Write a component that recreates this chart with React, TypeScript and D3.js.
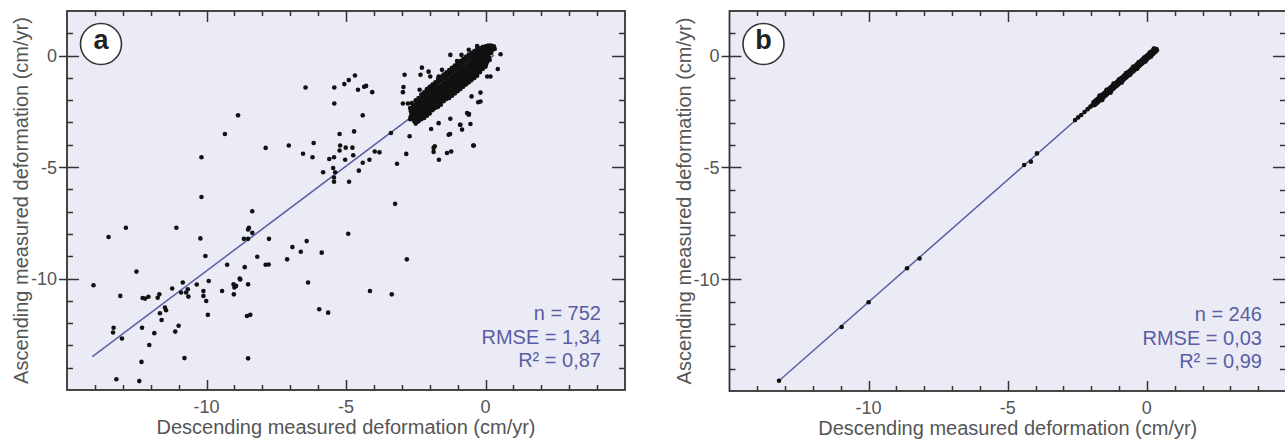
import { useEffect, useRef } from "react";
import * as d3 from "d3";

// axis setup shared by both panels
const xDomain = [-15, 5];
const yDomain = [-15, 2];
const labelledTicks = [-10, -5, 0];
const xLabel = "Descending measured deformation (cm/yr)";
const yLabel = "Ascending measured deformation (cm/yr)";

// panel a: scattered points away from the main cloud
const scatterA = [
  [-8.87, -2.68], [-9.34, -3.52], [-10.18, -4.56], [-10.18, -6.34],
  [-7.88, -4.14], [-7.05, -4.03], [-6.45, -1.43], [-6.54, -4.4], [-6.2, -4.56], [-6.16, -3.92],
  [-5.42, -1.43], [-5.42, -2.15], [-5.06, -1.28], [-4.9, -1.1], [-4.68, -0.89], [-4.57, -1.53],
  [-4.35, -1.4], [-4.28, -1.36], [-4.06, -1.64], [-4.4, -2.68],
  [-5.23, -3.52], [-4.71, -3.4], [-5.21, -4.03], [-5.01, -4.13], [-4.77, -4.13], [-5.23, -4.26],
  [-4.74, -4.47], [-5.6, -4.64], [-5.43, -4.56], [-5.03, -4.67], [-5.46, -5.04], [-5.82, -5.23],
  [-5.39, -5.23], [-5.43, -5.47], [-5.43, -5.66], [-4.89, -5.66], [-4.54, -5.16], [-4.4, -4.81],
  [-4.16, -4.67], [-3.97, -4.3], [-3.8, -4.34], [-3.39, -3.47], [-3.17, -4.85], [-2.84, -4.41],
  [-2.72, -3.62], [-2.9, -0.86], [-2.94, -1.41], [-2.96, -1.64], [-2.96, -2.15], [-2.78, -2.15],
  [-2.28, -0.54], [-2.33, -0.86], [-1.95, -3.29], [-1.82, -4.07], [-1.86, -4.32], [-1.67, -4.67],
  [-1.38, -4.37], [-1.23, -4.3], [-1.27, -3.52], [-0.91, -3.1], [-0.84, -3.32], [-0.54, -3.07],
  [-0.42, -4.03], [-0.26, -2.09], [-0.18, -1.66], [-0.66, -2.58], [-0.59, -2.62], [0.06, -0.94],
  [0.18, -0.94], [0.44, -0.6], [0.54, 0.06], [-1.26, 0.03], [-0.86, 0.03], [-0.6, 0.26],
  [-0.3, 0.43], [-1.02, -0.24], [-1.56, -0.64], [-2.04, -0.72], [-1.98, -0.94], [-1.68, -0.94],
  [-2.36, -1.53], [-0.18, -2.06], [-0.5, -1.83], [-0.6, -2.65], [-0.9, -3.1], [-1.26, -2.83],
  [-1.68, -3.03], [-1.32, -3.55], [-0.44, -4.03], [-1.86, -4.14], [-2.34, -2.28], [-2.64, -2.13],
  [-2.1, -1.53],
  [-14.05, -10.3], [-13.51, -8.14], [-12.89, -7.72], [-11.08, -7.72], [-10.22, -8.2], [-10.04, -8.99],
  [-12.51, -9.69], [-13.09, -10.78], [-12.29, -10.87], [-12.2, -10.9], [-12.08, -10.82],
  [-11.75, -10.86], [-11.69, -10.71], [-11.49, -11.3], [-11.45, -11.42], [-11.67, -11.56],
  [-11.61, -11.86], [-13.33, -12.21], [-13.35, -12.42], [-13.03, -12.69], [-12.31, -12.21],
  [-11.87, -12.45], [-12.05, -12.98], [-12.33, -13.74], [-13.23, -14.52], [-12.41, -14.6],
  [-11.12, -12.38], [-11.0, -12.12], [-10.79, -13.57], [-10.85, -10.18], [-10.91, -10.63],
  [-10.73, -10.63], [-10.67, -10.48], [-10.65, -10.81], [-11.23, -10.45], [-10.35, -10.27],
  [-9.92, -10.11], [-10.11, -10.56], [-10.11, -10.78], [-10.01, -11.01], [-9.95, -11.63],
  [-9.44, -10.56], [-9.26, -9.38], [-9.03, -10.26], [-9.0, -10.4], [-8.94, -10.33], [-9.02, -10.71],
  [-8.79, -10.04], [-8.63, -9.49], [-8.66, -8.22], [-8.51, -8.22], [-8.51, -7.8], [-8.55, -11.68],
  [-8.43, -11.63], [-8.51, -13.58], [-7.76, -8.22], [-8.18, -9.02], [-7.88, -9.38], [-7.77, -9.37],
  [-8.51, -10.26], [-3.24, -6.65], [-8.36, -6.98], [-8.48, -7.72], [-8.36, -7.95], [-4.92, -7.99],
  [-6.92, -8.59], [-6.62, -8.8], [-6.41, -8.32], [-5.87, -8.84], [-7.11, -9.14], [-2.82, -9.14],
  [-6.36, -10.18], [-8.81, -10.0], [-4.14, -10.56], [-3.36, -10.71], [-5.96, -11.38], [-5.64, -11.53],
];

// panel a: the dense cloud near zero
const cloudA = [
  [-2.7, -2.35], [-2.65, -2.6], [-2.7, -2.85],
  [-2.6, -2.2], [-2.55, -2.45], [-2.6, -2.7], [-2.55, -2.95],
  [-2.5, -2.0], [-2.45, -2.3], [-2.5, -2.55], [-2.45, -2.8], [-2.5, -3.05],
  [-2.4, -1.9], [-2.35, -2.2], [-2.4, -2.45], [-2.35, -2.7], [-2.4, -2.95],
  [-2.3, -1.75], [-2.25, -2.05], [-2.3, -2.35], [-2.25, -2.6], [-2.3, -2.85],
  [-2.2, -1.65], [-2.15, -1.95], [-2.2, -2.25], [-2.15, -2.5], [-2.2, -2.8],
  [-2.1, -1.5], [-2.05, -1.85], [-2.1, -2.1], [-2.05, -2.4], [-2.1, -2.7],
  [-2.0, -1.4], [-1.95, -1.7], [-2.0, -2.0], [-1.95, -2.3], [-2.0, -2.6],
  [-1.9, -1.3], [-1.85, -1.6], [-1.9, -1.9], [-1.85, -2.2], [-1.9, -2.45],
  [-1.8, -1.2], [-1.75, -1.5], [-1.8, -1.8], [-1.75, -2.1], [-1.8, -2.35],
  [-1.7, -1.05], [-1.65, -1.4], [-1.7, -1.7], [-1.65, -2.0], [-1.7, -2.3],
  [-1.6, -0.95], [-1.55, -1.3], [-1.6, -1.6], [-1.55, -1.9], [-1.6, -2.2],
  [-1.5, -0.85], [-1.45, -1.2], [-1.5, -1.5], [-1.45, -1.8], [-1.5, -2.05],
  [-1.4, -0.75], [-1.35, -1.1], [-1.4, -1.4], [-1.35, -1.7], [-1.4, -1.95],
  [-1.3, -0.65], [-1.25, -1.0], [-1.3, -1.3], [-1.25, -1.6], [-1.3, -1.9],
  [-1.2, -0.55], [-1.15, -0.9], [-1.2, -1.2], [-1.15, -1.5], [-1.2, -1.8],
  [-1.1, -0.45], [-1.05, -0.8], [-1.1, -1.1], [-1.05, -1.4], [-1.1, -1.7],
  [-1.0, -0.35], [-0.95, -0.7], [-1.0, -1.0], [-0.95, -1.3], [-1.0, -1.6],
  [-0.9, -0.25], [-0.85, -0.6], [-0.9, -0.9], [-0.85, -1.2], [-0.9, -1.5],
  [-0.8, -0.15], [-0.75, -0.5], [-0.8, -0.8], [-0.75, -1.1], [-0.8, -1.4],
  [-0.7, -0.05], [-0.65, -0.4], [-0.7, -0.7], [-0.65, -1.0], [-0.7, -1.3],
  [-0.6, 0.05], [-0.55, -0.3], [-0.6, -0.6], [-0.55, -0.9], [-0.6, -1.2],
  [-0.5, 0.12], [-0.45, -0.2], [-0.5, -0.5], [-0.45, -0.8], [-0.5, -1.1],
  [-0.4, 0.2], [-0.35, -0.1], [-0.4, -0.4], [-0.35, -0.7], [-0.4, -1.0],
  [-0.3, 0.28], [-0.25, 0.0], [-0.3, -0.3], [-0.25, -0.6], [-0.3, -0.9],
  [-0.2, 0.33], [-0.15, 0.08], [-0.2, -0.2], [-0.15, -0.5], [-0.2, -0.75],
  [-0.1, 0.38], [-0.05, 0.15], [-0.1, -0.1], [-0.05, -0.4], [-0.1, -0.6],
  [0.0, 0.42], [0.05, 0.2], [0.0, -0.02], [0.05, -0.3], [0.0, -0.5],
  [0.1, 0.45], [0.15, 0.25], [0.1, 0.05], [0.15, -0.2],
  [0.2, 0.45], [0.25, 0.3], [0.2, 0.12],
  [0.3, 0.42], [0.33, 0.3],
];

// panel a: points that fill the gaps inside the cloud
const cloudAFill = [
  [-2.68, -2.48], [-2.68, -2.73],
  [-2.58, -2.33], [-2.58, -2.58], [-2.58, -2.83],
  [-2.48, -2.15], [-2.48, -2.43], [-2.48, -2.68], [-2.48, -2.93],
  [-2.38, -2.05], [-2.38, -2.33], [-2.38, -2.58], [-2.38, -2.83],
  [-2.28, -1.9], [-2.28, -2.2], [-2.28, -2.48], [-2.28, -2.73],
  [-2.18, -1.8], [-2.18, -2.1], [-2.18, -2.38], [-2.18, -2.65],
  [-2.08, -1.68], [-2.08, -1.98], [-2.08, -2.25], [-2.08, -2.55],
  [-1.98, -1.55], [-1.98, -1.85], [-1.98, -2.15], [-1.98, -2.45],
  [-1.88, -1.45], [-1.88, -1.75], [-1.88, -2.05], [-1.88, -2.33],
  [-1.78, -1.35], [-1.78, -1.65], [-1.78, -1.95], [-1.78, -2.23],
  [-1.68, -1.22], [-1.68, -1.55], [-1.68, -1.85], [-1.68, -2.15],
  [-1.58, -1.12], [-1.58, -1.45], [-1.58, -1.75], [-1.58, -2.05],
  [-1.48, -1.02], [-1.48, -1.35], [-1.48, -1.65], [-1.48, -1.92],
  [-1.38, -0.92], [-1.38, -1.25], [-1.38, -1.55], [-1.38, -1.82],
  [-1.28, -0.82], [-1.28, -1.15], [-1.28, -1.45], [-1.28, -1.75],
  [-1.18, -0.72], [-1.18, -1.05], [-1.18, -1.35], [-1.18, -1.65],
  [-1.08, -0.62], [-1.08, -0.95], [-1.08, -1.25], [-1.08, -1.55],
  [-0.98, -0.52], [-0.98, -0.85], [-0.98, -1.15], [-0.98, -1.45],
  [-0.88, -0.42], [-0.88, -0.75], [-0.88, -1.05], [-0.88, -1.35],
  [-0.78, -0.32], [-0.78, -0.65], [-0.78, -0.95], [-0.78, -1.25],
  [-0.68, -0.22], [-0.68, -0.55], [-0.68, -0.85], [-0.68, -1.15],
  [-0.58, -0.12], [-0.58, -0.45], [-0.58, -0.75], [-0.58, -1.05],
  [-0.48, -0.04], [-0.48, -0.35], [-0.48, -0.65], [-0.48, -0.95],
  [-0.38, 0.05], [-0.38, -0.25], [-0.38, -0.55], [-0.38, -0.85],
  [-0.28, 0.14], [-0.28, -0.15], [-0.28, -0.45], [-0.28, -0.75],
  [-0.18, 0.2], [-0.18, -0.06], [-0.18, -0.35], [-0.18, -0.62],
  [-0.08, 0.26], [-0.08, 0.02], [-0.08, -0.25], [-0.08, -0.5],
  [0.02, 0.31], [0.02, 0.09], [0.02, -0.16], [0.02, -0.4],
  [0.12, 0.35], [0.12, 0.15], [0.12, -0.08],
  [0.22, 0.38], [0.22, 0.21],
];

// panel b points
const scatterB = [
  [-13.22, -14.54], [-10.97, -12.14], [-10.0, -11.03], [-8.62, -9.51], [-8.17, -9.07],
  [-4.41, -4.89], [-4.17, -4.74], [-3.95, -4.37],
  [-2.58, -2.88], [-2.47, -2.76], [-2.36, -2.65], [-2.24, -2.52], [-2.13, -2.39], [-2.03, -2.28], [-1.96, -2.22],
];
const cloudB = [
  [-1.92, -2.09], [-1.88, -2.21], [-1.87, -2.04], [-1.83, -2.16], [-1.82, -1.98], [-1.78, -2.1],
  [-1.77, -1.93], [-1.73, -2.05], [-1.72, -1.87], [-1.68, -1.99], [-1.67, -1.82], [-1.63, -1.94],
  [-1.62, -1.76], [-1.58, -1.88], [-1.57, -1.71], [-1.53, -1.83], [-1.52, -1.66], [-1.48, -1.78],
  [-1.47, -1.6], [-1.43, -1.72], [-1.42, -1.55], [-1.38, -1.67], [-1.37, -1.49], [-1.33, -1.61],
  [-1.32, -1.44], [-1.28, -1.56], [-1.27, -1.38], [-1.23, -1.5], [-1.22, -1.33], [-1.18, -1.45],
  [-1.17, -1.27], [-1.13, -1.39], [-1.12, -1.22], [-1.08, -1.34], [-1.07, -1.17], [-1.03, -1.29],
  [-1.02, -1.11], [-0.98, -1.23], [-0.97, -1.06], [-0.93, -1.18], [-0.92, -1.0], [-0.88, -1.12],
  [-0.87, -0.95], [-0.83, -1.07], [-0.82, -0.89], [-0.78, -1.01], [-0.77, -0.84], [-0.73, -0.96],
  [-0.72, -0.78], [-0.68, -0.9], [-0.67, -0.73], [-0.63, -0.85], [-0.62, -0.67], [-0.58, -0.79],
  [-0.57, -0.62], [-0.53, -0.74], [-0.52, -0.57], [-0.48, -0.69], [-0.47, -0.51], [-0.43, -0.63],
  [-0.42, -0.46], [-0.38, -0.58], [-0.37, -0.4], [-0.33, -0.52], [-0.32, -0.35], [-0.28, -0.47],
  [-0.27, -0.29], [-0.23, -0.41], [-0.22, -0.24], [-0.18, -0.36], [-0.17, -0.18], [-0.13, -0.3],
  [-0.12, -0.13], [-0.08, -0.25], [-0.07, -0.08], [-0.03, -0.2], [-0.02, -0.02], [0.02, -0.14],
  [0.03, 0.03], [0.07, -0.09], [0.08, 0.09], [0.12, -0.03], [0.13, 0.14], [0.17, 0.02],
  [0.18, 0.2], [0.22, 0.08], [0.23, 0.25], [0.27, 0.13], [0.28, 0.31], [0.32, 0.19],
  [0.34, 0.3], [0.36, 0.24],
  [-1.7, -1.78], [-1.45, -1.52], [-1.2, -1.25], [-1.0, -1.05], [-0.75, -0.78], [-0.5, -0.5],
  [-0.3, -0.3], [-0.1, -0.08], [0.1, 0.14], [0.25, 0.32],
  [-1.6, -1.98], [-1.3, -1.65], [-0.9, -1.2], [-0.6, -0.85], [-0.35, -0.58], [-0.05, -0.26], [0.15, -0.03],
];

// regression lines (end points)
const fitA = [[-14.09, -13.5], [0.3, 0.02]];
const fitB = [[-13.22, -14.54], [0.35, 0.3]];

const statsA = ["n = 752", "RMSE = 1,34", "R² = 0,87"];
const statsB = ["n = 246", "RMSE = 0,03", "R² = 0,99"];

const panels = [
  { id: "a", left: 67, right: 625, top: 11, bottom: 390, points: [...scatterA, ...cloudA, ...cloudAFill], fit: fitA, stats: statsA },
  { id: "b", left: 729.5, right: 1286, top: 11, bottom: 391, points: [...scatterB, ...cloudB], fit: fitB, stats: statsB },
];

const FONT = "'Liberation Sans', Arial, sans-serif";
const BG = "#ebebf5";
const INK = "#333";
const GREY = "#555";
const BLUE = "#5a5ea4";

const App = () => {
  const svgRef = useRef(null);

  useEffect(() => {
    const svg = d3.select(svgRef.current);

    panels.forEach((p) => {
      const x = d3.scaleLinear().domain(xDomain).range([p.left, p.right]);
      const y = d3.scaleLinear().domain(yDomain).range([p.bottom, p.top]);
      const g = svg.append("g");

      g.append("clipPath")
        .attr("id", "clip-" + p.id)
        .append("rect")
        .attr("x", p.left)
        .attr("y", p.top)
        .attr("width", p.right - p.left)
        .attr("height", p.bottom - p.top);

      g.append("rect")
        .attr("x", p.left)
        .attr("y", p.top)
        .attr("width", p.right - p.left)
        .attr("height", p.bottom - p.top)
        .attr("fill", BG);

      const inner = g.append("g").attr("clip-path", `url(#clip-${p.id})`);

      inner
        .append("path")
        .attr("d", d3.line().x((d) => x(d[0])).y((d) => y(d[1]))(p.fit))
        .attr("stroke", BLUE)
        .attr("stroke-width", 1.5)
        .attr("fill", "none");

      inner
        .selectAll("circle")
        .data(p.points)
        .join("circle")
        .attr("cx", (d) => x(d[0]))
        .attr("cy", (d) => y(d[1]))
        .attr("r", 2.3)
        .attr("fill", "#111");

      // ticks, every unit; longer ones at multiples of 5
      const ticks = g.append("g").attr("stroke", INK).attr("stroke-width", 1.5);
      const xs = d3.range(xDomain[0] + 1, xDomain[1]);
      const ys = d3.range(yDomain[0] + 1, yDomain[1]);
      const isMajor = (v) => v % 5 === 0;

      ys.forEach((v) => {
        const yy = Math.round(y(v)) + 0.5;
        ticks.append("line")
          .attr("x1", isMajor(v) ? p.left - 8 : p.left).attr("x2", p.left + (isMajor(v) ? 12 : 6))
          .attr("y1", yy).attr("y2", yy);
        ticks.append("line")
          .attr("x1", p.right - (isMajor(v) ? 13 : 6)).attr("x2", p.right)
          .attr("y1", yy).attr("y2", yy);
      });
      xs.forEach((v) => {
        const xx = Math.round(x(v)) + 0.5;
        ticks.append("line")
          .attr("x1", xx).attr("x2", xx)
          .attr("y1", p.top).attr("y2", p.top + (isMajor(v) ? 11 : 5));
        ticks.append("line")
          .attr("x1", xx).attr("x2", xx)
          .attr("y1", p.bottom - (isMajor(v) ? 10 : 5)).attr("y2", p.bottom);
      });

      g.append("rect")
        .attr("x", p.left)
        .attr("y", p.top)
        .attr("width", p.right - p.left)
        .attr("height", p.bottom - p.top)
        .attr("fill", "none")
        .attr("stroke", INK)
        .attr("stroke-width", 1.8);

      const labels = g.append("g").attr("font-family", FONT).attr("fill", GREY);

      labels.selectAll(".yt")
        .data(labelledTicks)
        .join("text")
        .attr("x", p.left - 10)
        .attr("y", (d) => y(d))
        .attr("dy", "0.36em")
        .attr("text-anchor", "end")
        .attr("font-size", 18)
        .text((d) => String(d));

      labels.selectAll(".xt")
        .data(labelledTicks)
        .join("text")
        .attr("x", (d) => x(d))
        .attr("y", p.bottom + 23)
        .attr("text-anchor", "middle")
        .attr("font-size", 18)
        .text((d) => String(d));

      labels.append("text")
        .attr("x", (p.left + p.right) / 2)
        .attr("y", p.bottom + 44)
        .attr("text-anchor", "middle")
        .attr("font-size", 20)
        .text(xLabel);

      labels.append("text")
        .attr("transform", `translate(${p.left - 39},${(p.top + p.bottom) / 2}) rotate(-90)`)
        .attr("text-anchor", "middle")
        .attr("font-size", 20)
        .text(yLabel);

      g.append("g")
        .attr("font-family", FONT)
        .attr("fill", BLUE)
        .attr("font-size", 20)
        .attr("text-anchor", "end")
        .selectAll("text")
        .data(p.stats)
        .join("text")
        .attr("x", p.right - 24)
        .attr("y", (d, i) => p.bottom - 70 + i * 23.5)
        .text((d) => d);

      // panel letter in a circle
      const cx = p.left + 34;
      const cy = p.top + 33;
      g.append("circle")
        .attr("cx", cx)
        .attr("cy", cy)
        .attr("r", 20.5)
        .attr("fill", "#fff")
        .attr("stroke", INK)
        .attr("stroke-width", 1.6);
      g.append("text")
        .attr("x", cx)
        .attr("y", cy + 5)
        .attr("text-anchor", "middle")
        .attr("font-family", FONT)
        .attr("font-weight", "bold")
        .attr("font-size", 27)
        .attr("fill", "#222")
        .text(p.id);
    });

    return () => svg.selectAll("*").remove();
  }, []);

  return (
    <svg
      ref={svgRef}
      width={1285}
      height={444}
      style={{ position: "absolute", left: 0, top: 0, background: "#fff" }}
    ></svg>
  );
};

export default App;
